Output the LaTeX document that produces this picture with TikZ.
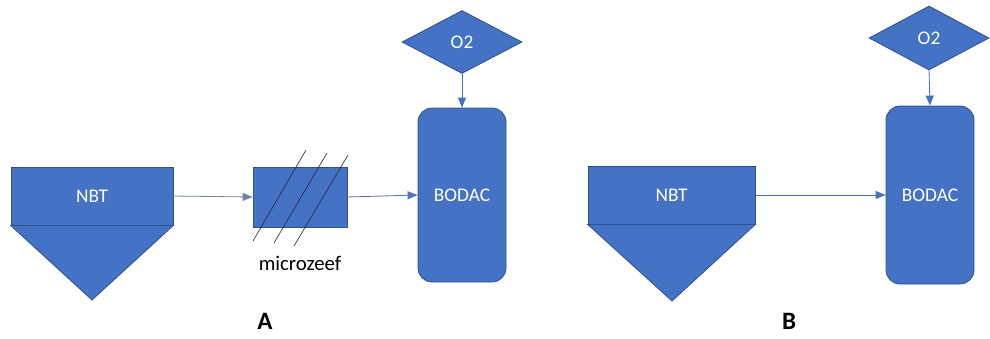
\documentclass[tikz,border=0pt]{standalone}
\usepackage{fontspec}
\setmainfont{Carlito}
\usetikzlibrary{arrows.meta,shapes.geometric}
\definecolor{tankblue}{HTML}{4472C4}
\definecolor{tankedge}{HTML}{2F528F}
\definecolor{pipegray}{HTML}{7083A3}
\tikzstyle{unit}=[rectangle,draw=tankedge,fill=tankblue,line width=0.8pt,text=white,inner sep=0pt,font=\fontsize{19.3}{22}\selectfont]
\tikzstyle{tank}=[unit,minimum width=162pt,minimum height=58pt]
\tikzstyle{sieve}=[unit,minimum width=94pt,minimum height=60pt]
\tikzstyle{reactor}=[unit,rounded corners=14pt,minimum width=88pt]
\tikzstyle{feed}=[unit,diamond,aspect=1.9,minimum width=120pt,minimum height=63pt]
\tikzstyle{flow}=[-{Triangle[length=10pt,width=8pt]},line width=0.8pt,draw=tankblue,fill=tankblue]
\tikzstyle{hatch}=[line width=0.6pt,black!85]
\tikzstyle{caption}=[font=\fontsize{25}{28}\selectfont\bfseries]

\begin{document}
\begin{tikzpicture}[x=1pt,y=-1pt]

\useasboundingbox (0,0) rectangle (990,338) ;

% setup A: settling tank, micro sieve, aeration tank
\node (nbtA) [tank] at (92,196) {NBT} ;
\draw [draw=tankedge,fill=tankblue,line width=0.8pt] (nbtA.south west) -- (nbtA.south east) -- (92,300) -- cycle ;
\node (zeef) [sieve] at (300,197) {} ;
\draw [hatch] (253,241) -- (306,150) ;
\draw [hatch] (274,243) -- (327,153) ;
\draw [hatch] (294,246) -- (348,155) ;
\node (zeeflabel) [text=black,font=\fontsize{20.8}{24}\selectfont] at (300,263) {microzeef} ;
\node (bodacA) [reactor,minimum height=174pt] at (462,195) {BODAC} ;
\node (o2A) [feed] at (462,42) {O2} ;

\draw [flow,draw=pipegray] (nbtA.east) -- (zeef.west) ;
\draw [flow,draw=tankblue!70!pipegray] (zeef.east) -- (bodacA.west) ;
\draw [flow] (o2A.south) -- (bodacA.north) ;

\node (labA) [caption] at (265,321) {A} ;

% setup B: settling tank straight to aeration tank
\node (nbtB) [tank,minimum width=167pt] at (671.5,195) {NBT} ;
\draw [draw=tankedge,fill=tankblue,line width=0.8pt] (nbtB.south west) -- (nbtB.south east) -- (672,301) -- cycle ;
\node (bodacB) [reactor,minimum height=178pt] at (930,195) {BODAC} ;
\node (o2B) [feed,minimum height=64pt] at (929,38) {O2} ;

\draw [flow] (nbtB.east) -- (bodacB.west) ;
\draw [flow] (o2B.south) -- (bodacB.north) ;

\node (labB) [caption] at (789,321) {B} ;

\end{tikzpicture}
\end{document}
